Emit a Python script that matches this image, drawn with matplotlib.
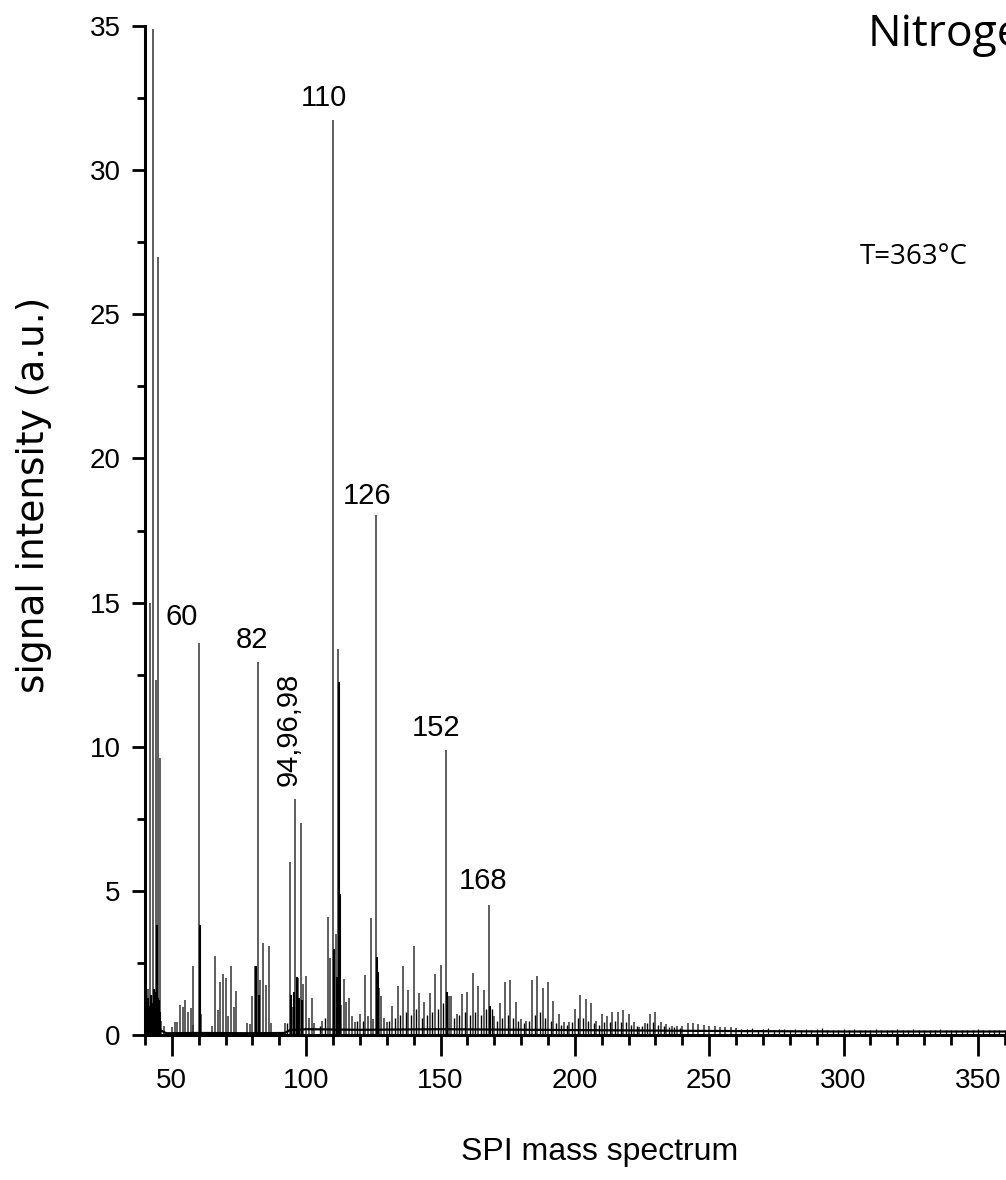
import matplotlib.pyplot as plt
from matplotlib.ticker import MultipleLocator

# main stick peaks of the SPI mass spectrum (m/z, signal in a.u.)
peak_mz = [41, 42, 43, 44, 45, 45.5, 46, 47,
           50, 51, 52, 53, 54, 55, 56, 57, 57.7, 58, 60, 61,
           65, 66, 67, 68, 69, 70, 71, 72, 73, 74,
           78, 79, 80, 81, 82, 83, 84, 85, 86, 87,
           92, 94, 95, 96, 97, 98, 99, 100, 101, 102, 103, 106,
           108, 109, 110, 111, 112, 113, 114, 115, 116, 117, 118, 120,
           122, 123, 124, 125, 126, 127, 128, 129, 130, 132, 134, 136,
           138, 140, 142, 144, 146, 148, 150, 152, 153, 154, 156, 158,
           160, 162, 164, 166, 168, 170, 172, 174, 176, 178, 180, 182,
           184, 186, 188, 190, 192, 194, 196, 198, 200, 202, 204, 206,
           208, 210, 212, 214, 216, 218, 220, 222, 224, 226, 228, 230,
           232, 234, 236, 238, 240, 242, 244, 246, 248, 250, 252, 254,
           256, 258, 260]
peak_int = [1.6, 15.0, 34.9, 12.3, 27.0, 9.6, 0.5, 0.3,
            0.27, 0.44, 0.46, 1.04, 0.96, 1.23, 0.81, 0.95, 0.35, 2.38, 13.6, 0.72,
            0.3, 2.73, 0.85, 1.85, 2.1, 1.98, 0.65, 2.4, 0.96, 1.53,
            0.42, 0.38, 1.34, 2.38, 12.95, 1.9, 3.2, 1.74, 3.08, 0.42,
            0.42, 6.0, 0.96, 8.2, 1.98, 7.35, 1.77, 2.06, 0.6, 1.27, 0.4, 0.5,
            4.1, 2.66, 31.75, 3.5, 13.4, 1.04, 1.94, 1.16, 1.27, 0.65, 0.46, 0.73,
            2.08, 0.67, 4.06, 0.55, 18.05, 1.62, 1.34, 0.58, 0.46, 1.0, 1.71, 2.38,
            1.57, 3.08, 1.45, 1.13, 1.45, 2.1, 2.43, 9.9, 1.34, 1.34, 0.73, 1.41,
            1.48, 2.15, 1.7, 1.57, 4.5, 0.67, 1.11, 1.85, 1.92, 1.13, 0.56, 0.5,
            1.89, 2.04, 1.62, 1.85, 1.19, 0.73, 0.44, 0.46, 0.9, 1.37, 1.25, 1.11,
            0.5, 0.73, 0.65, 0.79, 0.81, 0.87, 0.73, 0.44, 0.27, 0.42, 0.73, 0.81,
            0.46, 0.38, 0.32, 0.3, 0.3, 0.42, 0.42, 0.38, 0.35, 0.32, 0.3, 0.27,
            0.28, 0.28, 0.23]

# smaller in-between peaks
odd_mz = [93, 105, 107, 119, 121,
          131, 133, 135, 137, 139, 141, 143, 145, 147, 149, 151, 155, 157, 159,
          161, 163, 165, 167, 169, 171, 173, 175, 177, 179, 181, 183, 185, 187,
          189, 191, 193, 195, 197, 199, 201, 203, 205, 207, 209, 211, 213, 215,
          217, 219, 221, 223, 225, 227, 229, 231, 233, 235, 237, 239]
odd_int = [0.4, 0.3, 0.6, 0.5, 0.5,
           0.5, 0.6, 0.7, 0.8, 0.7, 0.9, 0.6, 0.7, 0.8, 0.9, 1.1, 0.6, 0.7, 0.8,
           0.7, 0.8, 0.7, 0.9, 0.9, 0.5, 0.6, 0.7, 0.6, 0.5, 0.4, 0.5, 0.7, 0.8,
           0.6, 0.5, 0.4, 0.35, 0.35, 0.45, 0.6, 0.6, 0.5, 0.4, 0.35, 0.45, 0.45, 0.5,
           0.45, 0.45, 0.35, 0.3, 0.3, 0.4, 0.45, 0.35, 0.3, 0.28, 0.26, 0.25]

# weak tail above m/z 260
tail_mz = [262, 264, 266, 268, 270, 272, 274, 276, 278, 280, 282, 284, 286, 288,
           290, 292, 294, 296, 298, 300, 302, 304, 306, 308, 310, 312, 314, 316,
           318, 320, 322, 324, 326, 328, 330, 332, 334, 336, 338, 340, 342, 344,
           346, 348, 350, 352, 354, 356, 358, 360]
tail_int = [0.22, 0.2, 0.24, 0.19, 0.21, 0.25, 0.18, 0.2, 0.22, 0.19, 0.2, 0.17, 0.21, 0.18,
            0.2, 0.24, 0.18, 0.19, 0.17, 0.2, 0.18, 0.21, 0.17, 0.19, 0.18, 0.2, 0.17, 0.19,
            0.18, 0.2, 0.17, 0.19, 0.21, 0.18, 0.17, 0.19, 0.18, 0.2, 0.17, 0.19, 0.18, 0.17,
            0.19, 0.18, 0.22, 0.18, 0.17, 0.19, 0.18, 0.17]

# dense unresolved signal at the foot of the big peaks
foot_mz = [40.3, 40.7, 41.3, 41.7, 42.3, 42.7, 43.3, 43.7, 44.3, 44.7, 45.3, 45.7,
           60.3, 81.5, 82.3, 94.5, 95.5, 96.5, 97.5, 98.5, 110.5, 111.3, 112.3,
           112.7, 126.3, 126.7, 152.3, 168.3]
foot_int = [1.5, 1.2, 1.3, 1.0, 1.4, 1.1, 1.6, 1.5, 3.8, 1.3, 1.2, 0.8,
            3.8, 2.4, 1.4, 1.4, 1.5, 2.0, 1.3, 1.2, 3.0, 2.0, 12.25,
            4.9, 2.7, 2.2, 1.5, 1.0]

# baseline of the trace
base_mz = [40, 46, 48, 60, 80, 92, 94, 100, 120, 150, 200, 250, 300, 362]
base_int = [0.25, 0.15, 0.06, 0.07, 0.06, 0.07, 0.17, 0.2, 0.18, 0.2, 0.17, 0.14, 0.12, 0.12]

labels = ['60', '82', '94,96,98', '110', '126', '152', '168']
label_x = [53.6, 79.8, 93.6, 106.6, 122.5, 148.3, 166.0]
label_y = [14.5, 13.7, 10.6, 32.5, 18.7, 10.65, 5.35]
label_rot = [0, 0, 90, 0, 0, 0, 0]

plt.rcParams['font.family'] = ['Liberation Sans', 'DejaVu Sans']

fig = plt.figure(figsize=(10.06, 11.8), dpi=100)
ax = fig.add_axes([0.1441, 0.1229, 0.86, 0.855])

ax.vlines(peak_mz, 0, peak_int, color='#333333', lw=1.1)
ax.vlines(odd_mz, 0, odd_int, color='black', lw=1.0)
ax.vlines(tail_mz, 0, tail_int, color='black', lw=0.9)
ax.vlines(foot_mz, 0, foot_int, color='black', lw=1.5)
ax.plot(base_mz, base_int, color='black', lw=1.6)

for s, x, y, r in zip(labels, label_x, label_y, label_rot):
    ax.text(x, y, s, rotation=r, ha='center', va='center', fontsize=21)

ax.set_xlim(40, 362)
ax.set_ylim(0, 35)
ax.xaxis.set_major_locator(MultipleLocator(50))
ax.xaxis.set_minor_locator(MultipleLocator(10))
ax.yaxis.set_major_locator(MultipleLocator(5))
ax.yaxis.set_minor_locator(MultipleLocator(2.5))

for side in ['top', 'right']:
    ax.spines[side].set_visible(False)
for side in ['left', 'bottom']:
    ax.spines[side].set_linewidth(2.2)

ax.tick_params(axis='x', which='major', direction='out', length=15, width=2,
               pad=9, labelsize=20)
ax.tick_params(axis='x', which='minor', direction='out', length=7, width=2)
ax.tick_params(axis='y', which='major', direction='out', length=9.5, width=2,
               pad=8, labelsize=20)
ax.tick_params(axis='y', which='minor', direction='out', length=6, width=2)

ax.set_xlabel('SPI mass spectrum', fontsize=23, va='center')
ax.xaxis.set_label_coords(0.525, -0.116)
ax.set_ylabel('signal intensity (a.u.)', fontsize=27, va='center',
              family=['DejaVu Sans'])
ax.yaxis.set_label_coords(-0.128, 0.535)

fig.text(868 / 1006, 1 - 35 / 1180, 'Nitrogen', fontsize=32, ha='left', va='center',
         family=['Open Sans', 'DejaVu Sans'])
fig.text(860 / 1006, 1 - 257 / 1180, 'T=363°C', fontsize=20, ha='left', va='center',
         family=['Open Sans', 'DejaVu Sans'])

fig.savefig('out.png', dpi=100)
